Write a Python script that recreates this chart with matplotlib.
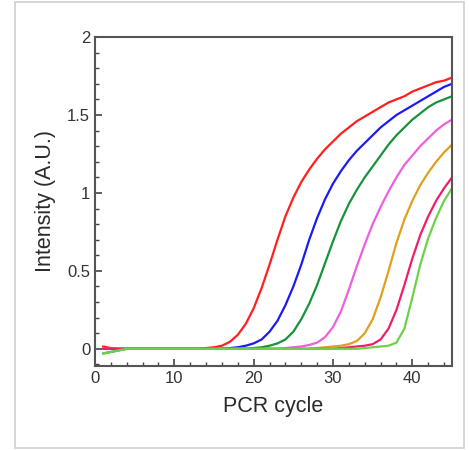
import numpy as np
from matplotlib import pyplot as plt
from matplotlib.patches import Rectangle
from matplotlib.ticker import MultipleLocator

plt.rcParams['font.family'] = ['Liberation Sans', 'DejaVu Sans']

# PCR cycles 1..45
cycles = list(range(1, 46))

# amplification curves (intensity, A.U.)
red = [0.015, 0.005, 0.0, 0.0, 0.0, 0.0, 0.0, 0.0, 0.0, 0.0,
       0.0, 0.0, 0.0, 0.005, 0.01, 0.02, 0.045, 0.09, 0.16, 0.26,
       0.39, 0.54, 0.70, 0.85, 0.97, 1.07, 1.15, 1.22, 1.28, 1.33,
       1.38, 1.42, 1.46, 1.49, 1.52, 1.55, 1.58, 1.60, 1.62, 1.65,
       1.67, 1.69, 1.71, 1.72, 1.74]
blue = [0.0, 0.0, 0.0, 0.0, 0.0, 0.0, 0.0, 0.0, 0.0, 0.0,
        0.0, 0.0, 0.0, 0.0, 0.0, 0.0, 0.005, 0.01, 0.02, 0.035,
        0.06, 0.11, 0.18, 0.28, 0.40, 0.54, 0.70, 0.84, 0.96, 1.06,
        1.14, 1.21, 1.27, 1.32, 1.37, 1.42, 1.46, 1.50, 1.53, 1.56,
        1.59, 1.62, 1.65, 1.68, 1.70]
dkgreen = [-0.03, -0.02, -0.01, 0.0, 0.0, 0.0, 0.0, 0.0, 0.0, 0.0,
           0.0, 0.0, 0.0, 0.0, 0.0, 0.0, 0.0, 0.0, 0.0, 0.005,
           0.01, 0.02, 0.035, 0.06, 0.11, 0.19, 0.29, 0.41, 0.55, 0.69,
           0.82, 0.93, 1.02, 1.10, 1.17, 1.24, 1.31, 1.37, 1.42, 1.47,
           1.51, 1.55, 1.58, 1.60, 1.62]
magenta = [0.0, 0.0, 0.0, 0.0, 0.0, 0.0, 0.0, 0.0, 0.0, 0.0,
           0.0, 0.0, 0.0, 0.0, 0.0, 0.0, 0.0, 0.0, 0.0, 0.0,
           0.0, 0.0, 0.0, 0.005, 0.01, 0.015, 0.025, 0.04, 0.075, 0.14,
           0.24, 0.38, 0.53, 0.67, 0.80, 0.91, 1.01, 1.10, 1.18, 1.24,
           1.30, 1.35, 1.40, 1.44, 1.47]
orange = [0.0, 0.0, 0.0, 0.0, 0.0, 0.0, 0.0, 0.0, 0.0, 0.0,
          0.0, 0.0, 0.0, 0.0, 0.0, 0.0, 0.0, 0.0, 0.0, 0.0,
          0.0, 0.0, 0.0, 0.0, 0.0, 0.0, 0.0, 0.005, 0.01, 0.015,
          0.02, 0.03, 0.05, 0.10, 0.19, 0.33, 0.50, 0.68, 0.83, 0.95,
          1.05, 1.13, 1.20, 1.26, 1.31]
crimson = [0.0, 0.0, 0.0, 0.0, 0.0, 0.0, 0.0, 0.0, 0.0, 0.0,
           0.0, 0.0, 0.0, 0.0, 0.0, 0.0, 0.0, 0.0, 0.0, 0.0,
           0.0, 0.0, 0.0, 0.0, 0.0, 0.0, 0.0, 0.0, 0.0, 0.0,
           0.005, 0.01, 0.015, 0.02, 0.03, 0.06, 0.13, 0.25, 0.41, 0.58,
           0.73, 0.85, 0.95, 1.03, 1.10]
ltgreen = [-0.03, -0.02, -0.01, 0.0, 0.0, 0.0, 0.0, 0.0, 0.0, 0.0,
           0.0, 0.0, 0.0, 0.0, 0.0, 0.0, 0.0, 0.0, 0.0, 0.0,
           0.0, 0.0, 0.0, 0.0, 0.0, 0.0, 0.0, 0.0, 0.0, 0.0,
           0.0, 0.0, 0.0, 0.005, 0.01, 0.015, 0.02, 0.04, 0.13, 0.33,
           0.54, 0.71, 0.84, 0.95, 1.03]

series = [red, blue, dkgreen, magenta, orange, crimson, ltgreen]
colors = ['#ff1f1f', '#1c1cf0', '#15943a', '#ee5fe0', '#e0a01c', '#f01e6a', '#6fd04a']

fig = plt.figure(figsize=(4.69, 4.5), dpi=100)
# 外框
fig.patches.append(Rectangle((0.032, 0.004), 0.957, 0.992, transform=fig.transFigure,
                             fill=False, edgecolor='#cfcfcf', linewidth=1.2))
ax = fig.add_axes([0.2026, 0.1867, 0.7612, 0.7311])

for ys, c in zip(series, colors):
    ax.plot(cycles, ys, color=c, linewidth=1.6, solid_capstyle='round',
            solid_joinstyle='round')

ax.set_xlim(0, 45)
ax.set_ylim(-0.11, 2)
ax.xaxis.set_major_locator(MultipleLocator(10))
ax.xaxis.set_minor_locator(MultipleLocator(2))
ax.yaxis.set_major_locator(MultipleLocator(0.5))
ax.yaxis.set_minor_locator(MultipleLocator(0.1))
ax.set_yticks([0, 0.5, 1, 1.5, 2])
ax.set_yticklabels(['0', '0.5', '1', '1.5', '2'])

ax.tick_params(which='both', direction='in', top=False, right=False,
               colors='#444444', labelcolor='#333333', labelsize=12)
ax.tick_params(which='major', length=5, width=1.2)
ax.tick_params(which='minor', length=3, width=1.0)
for s in ax.spines.values():
    s.set_color('#555555')
    s.set_linewidth(1.5)

ax.set_xlabel('PCR cycle', fontsize=15.5, color='#2a2a2a', labelpad=7)
ax.set_ylabel('Intensity (A.U.)', fontsize=15.5, color='#2a2a2a', labelpad=8)

plt.savefig('out.png', dpi=100)
